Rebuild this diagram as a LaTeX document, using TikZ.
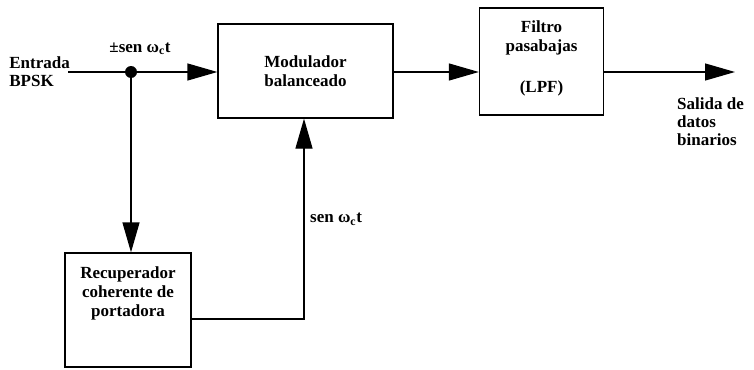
\documentclass[tikz,border=0pt]{standalone}
\usepackage{fontspec}
\setmainfont{Liberation Serif}
\usetikzlibrary{arrows.meta}
\begin{document}
\begin{tikzpicture}[x=1pt,y=-1pt,
  blk/.style={draw,line width=1.3pt,inner sep=0pt},
  lbl/.style={font=\bfseries\fontsize{17}{19}\selectfont,align=center,inner sep=0pt},
  lbll/.style={font=\bfseries\fontsize{17}{18}\selectfont,align=left,inner sep=0pt},
  wire/.style={line width=1.3pt},
  arr/.style={wire,-{Triangle[length=30pt,width=17pt]}}]
\useasboundingbox (0,0) rectangle (754,369);
\node[blk,minimum width=175pt,minimum height=94pt] (mod) at (305.5,71) {};
\node[lbl] at (305.5,71) {Modulador\\balanceado};
\node[blk,minimum width=124pt,minimum height=107pt] (lpf) at (541.5,61.5) {};
\node[lbl] at (541.5,38) {Filtro\\pasabajas};
\node[lbl] at (541.5,88) {(LPF)};
\node[blk,minimum width=126pt,minimum height=114pt] (rec) at (128,310) {};
\node[lbl] at (128,293) {Recuperador\\coherente de\\portadora};
\node[lbll,anchor=east] (in) at (70,72) {Entrada\\BPSK};
\coordinate (dot) at (131,72);
\fill (dot) circle (6pt);
\node[lbl,anchor=south] at (140,55) {±sen ω\textsubscript{c}t};
\coordinate (out) at (735,72);
\node[lbll,anchor=north west] at (677,98) {Salida de\\datos\\binarios};
\draw[wire] (in.east) ++(-2,0) -- (dot);
\draw[arr] (dot) -- (mod.west |- dot);
\draw[arr] (dot) -- (rec.north -| dot);
\draw[arr] (mod.east |- 0,72) -- (lpf.west |- 0,72);
\draw[arr] (lpf.east |- 0,72) -- (out);
\coordinate (corner) at (304,319);
\draw[arr] (rec.east |- corner) -- (corner) -- (mod.south -| corner);
\node[lbl,anchor=west] at (310,219) {sen ω\textsubscript{c}t};
\end{tikzpicture}
\end{document}
